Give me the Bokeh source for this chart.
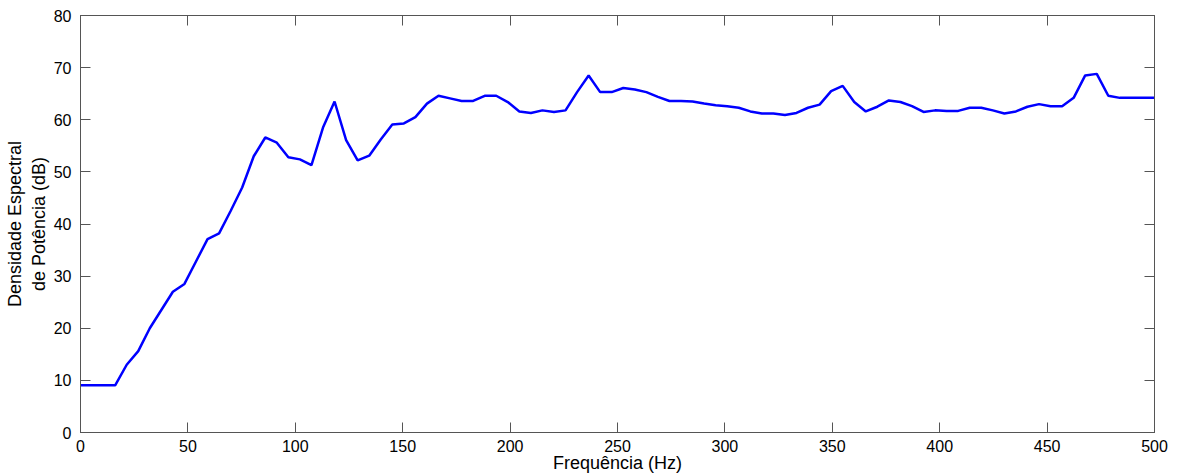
from bokeh.plotting import figure
from bokeh.models import LinearAxis, SingleIntervalTicker, Range1d, CustomJSTickFormatter
from bokeh.embed import file_html
from bokeh.resources import INLINE

freq_hz = [0.00, 5.38, 10.75, 16.13, 21.51, 26.88, 32.26, 37.63, 43.01, 48.39,
           53.76, 59.14, 64.52, 69.89, 75.27, 80.65, 86.02, 91.40, 96.77, 102.15,
           107.53, 112.90, 118.28, 123.66, 129.03, 134.41, 139.78, 145.16, 150.54, 155.91,
           161.29, 166.67, 172.04, 177.42, 182.80, 188.17, 193.55, 198.92, 204.30, 209.68,
           215.05, 220.43, 225.81, 231.18, 236.56, 241.94, 247.31, 252.69, 258.06, 263.44,
           268.82, 274.19, 279.57, 284.95, 290.32, 295.70, 301.08, 306.45, 311.83, 317.20,
           322.58, 327.96, 333.33, 338.71, 344.09, 349.46, 354.84, 360.22, 365.59, 370.97,
           376.34, 381.72, 387.10, 392.47, 397.85, 403.23, 408.60, 413.98, 419.35, 424.73,
           430.11, 435.48, 440.86, 446.24, 451.61, 456.99, 462.37, 467.74, 473.12, 478.49,
           483.87, 489.25, 494.62, 500.00]

psd_db = [9.05, 9.05, 9.05, 9.05, 13.0, 15.6, 20.0, 23.5, 27.0, 28.5,
          32.8, 37.1, 38.2, 42.5, 47.0, 53.0, 56.6, 55.6, 52.8, 52.4,
          51.3, 58.5, 63.5, 56.1, 52.2, 53.1, 56.2, 59.1, 59.3, 60.5,
          63.1, 64.6, 64.1, 63.6, 63.6, 64.6, 64.6, 63.4, 61.6, 61.3,
          61.8, 61.5, 61.8, 65.3, 68.5, 65.3, 65.3, 66.1, 65.8, 65.3,
          64.4, 63.6, 63.6, 63.5, 63.1, 62.8, 62.6, 62.3, 61.6, 61.2,
          61.2, 60.9, 61.3, 62.3, 62.9, 65.5, 66.5, 63.4, 61.6, 62.5,
          63.7, 63.4, 62.6, 61.5, 61.8, 61.7, 61.7, 62.3, 62.3, 61.8,
          61.2, 61.6, 62.5, 63.0, 62.6, 62.6, 64.2, 68.5, 68.8, 64.6,
          64.2, 64.2, 64.2, 64.2]

x_label = "Frequência (Hz)"
y_label = "Densidade Espectral\nde Potência (dB)"

FONT = "Liberation Sans"
AX_COLOR = "#555555"

p = figure(width=1181, height=475, output_backend="svg", toolbar_location=None,
           x_range=Range1d(0, 500), y_range=Range1d(0, 80),
           min_border_left=80, min_border_right=27, min_border_top=15, min_border_bottom=42)
p.background_fill_color = "white"
p.border_fill_color = "white"
p.outline_line_color = AX_COLOR
p.grid.visible = False

p.line(freq_hz, psd_db, line_color="#0000FF", line_width=2.5)

def style(ax):
    ax.axis_line_color = AX_COLOR
    ax.major_tick_line_color = AX_COLOR
    ax.major_tick_in = 10
    ax.major_tick_out = 0
    ax.minor_tick_line_color = None
    ax.major_label_text_font = FONT
    ax.major_label_text_color = "black"
    ax.major_label_text_font_size = "16px"
    ax.axis_label_text_font = FONT
    ax.axis_label_text_font_style = "normal"
    ax.axis_label_text_color = "black"
    ax.axis_label_text_font_size = "18px"

xa = p.xaxis[0]
xa.ticker = SingleIntervalTicker(interval=50)
xa.axis_label = x_label
style(xa)
xa.major_label_standoff = 3
xa.axis_label_standoff = -2

ya = p.yaxis[0]
ya.ticker = SingleIntervalTicker(interval=10)
ya.axis_label = y_label
style(ya)
ya.major_label_standoff = 5
ya.axis_label_standoff = 2

blank = CustomJSTickFormatter(code="return '';")

ra = LinearAxis(ticker=SingleIntervalTicker(interval=10), formatter=blank)
style(ra)
ra.major_label_standoff = 0
p.add_layout(ra, "right")

ta = LinearAxis(ticker=SingleIntervalTicker(interval=50), formatter=blank)
style(ta)
ta.major_label_standoff = 0
p.add_layout(ta, "above")

open("out.html", "w").write(file_html(p, INLINE))
